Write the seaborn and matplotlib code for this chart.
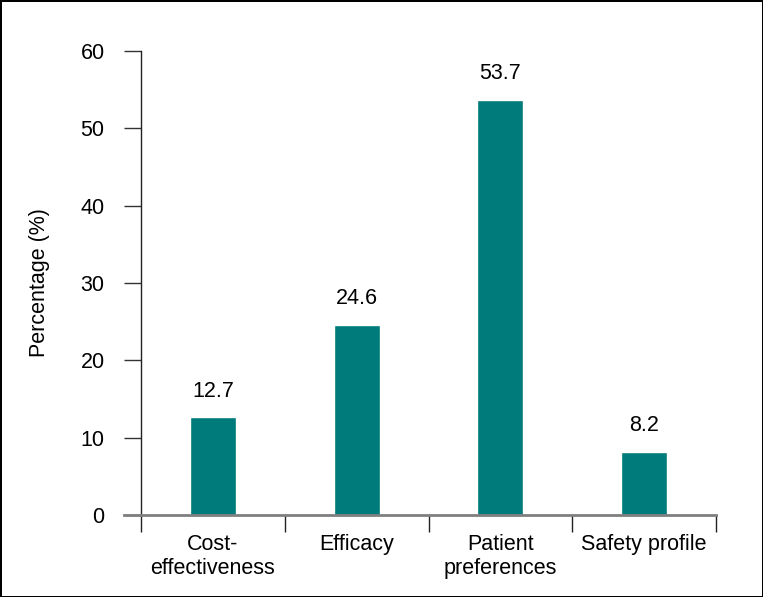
import matplotlib
matplotlib.use("Agg")
import matplotlib.pyplot as plt
import seaborn as sns
import pandas as pd
from matplotlib.ticker import FixedLocator, NullFormatter

categories = ["Cost-\neffectiveness", "Efficacy", "Patient\npreferences", "Safety profile"]
values = [12.7, 24.6, 53.7, 8.2]
value_labels = ["12.7", "24.6", "53.7", "8.2"]
y_ticks = [0, 10, 20, 30, 40, 50, 60]

sns.set_style("white")
plt.rcParams['font.family'] = ['Liberation Sans', 'DejaVu Sans']
plt.rcParams['text.color'] = 'black'
plt.rcParams['xtick.labelcolor'] = 'black'
plt.rcParams['ytick.labelcolor'] = 'black'
plt.rcParams['axes.labelcolor'] = 'black'

FS = 15.5

df = pd.DataFrame({"category": categories, "value": values})

fig = plt.figure(figsize=(7.63, 5.97), dpi=100, facecolor="white", edgecolor="black", linewidth=2)
ax = fig.add_axes([141/763, 1 - 515/597, (716 - 141)/763, (515 - 51)/597])

sns.barplot(data=df, x="category", y="value", color="#007B7B", width=0.32,
            saturation=1, ax=ax, order=categories)

ax.set_xlim(-0.5, 3.5)
ax.set_ylim(0, 60)
ax.set_yticks(y_ticks)
ax.tick_params(axis="y", direction="out", length=12.2, width=1, color="#333333",
               labelsize=FS, labelcolor="black", pad=14, left=True)

# x: major ticks at boundaries, labels at centres
ax.xaxis.set_major_locator(FixedLocator([-0.5, 0.5, 1.5, 2.5, 3.5]))
ax.xaxis.set_major_formatter(NullFormatter())
ax.xaxis.set_minor_locator(FixedLocator([0, 1, 2, 3]))
ax.set_xticklabels(categories, minor=True)
ax.tick_params(axis="x", which="major", direction="out", length=12.2, width=1,
               color="#222222", bottom=True)
ax.tick_params(axis="x", which="minor", length=0, labelsize=FS, labelcolor="black",
               pad=14, bottom=True)
for t in ax.get_xticklabels(minor=True):
    t.set_linespacing(1.15)

ax.set_xlabel("")
ax.set_ylabel("Percentage (%)", fontsize=FS, labelpad=22, color="black")

for s in ["top", "right"]:
    ax.spines[s].set_visible(False)
ax.spines["left"].set_color("#222222")
ax.spines["left"].set_linewidth(1)
ax.spines["bottom"].set_color("#7f7f7f")
ax.spines["bottom"].set_linewidth(2)
ax.spines["bottom"].set_bounds(-0.62, 3.5)

for i, (v, lab) in enumerate(zip(values, value_labels)):
    ax.annotate(lab, (i, v), xytext=(0, 11), textcoords="offset points",
                ha="center", va="bottom", fontsize=FS, color="black")

fig.savefig("out.png", dpi=100, facecolor="white", edgecolor="black")
